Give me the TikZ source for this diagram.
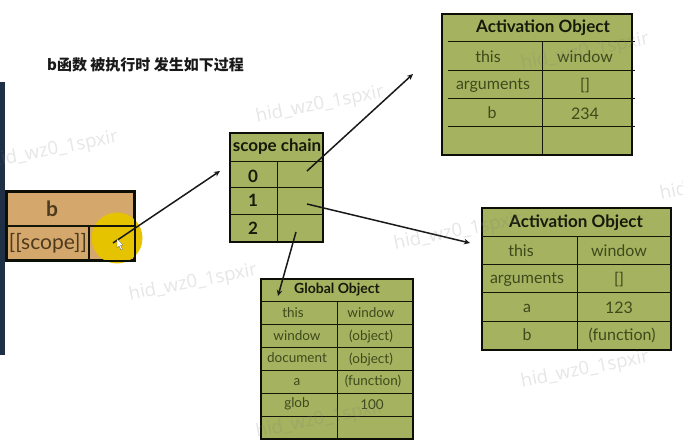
\documentclass[tikz,border=0pt]{standalone}
\usepackage{fontspec}
\setmainfont{Lato}
\newfontfamily\cjkfont{Noto Sans CJK SC}
\newfontfamily\wmfont{Open Sans}
\usetikzlibrary{arrows.meta}
\definecolor{tblgreen}{HTML}{A5B25F}
\definecolor{tbltan}{HTML}{D4A76C}
\definecolor{inkgreen}{HTML}{3E4A1C}
\definecolor{inkbrown}{HTML}{4E3B1E}
\definecolor{hilite}{HTML}{E6C300}
\definecolor{sidebar}{HTML}{1F2F45}
\tikzset{
  x=1pt,y=-1pt,
  frame/.style={draw=black!80!inkgreen,line width=1.6pt,inner sep=0pt},
  rule/.style={draw=black!70!inkgreen,line width=1pt},
  cell/.style={text=inkgreen,font=\fontsize{16}{18}\selectfont,inner sep=0pt},
  smallcell/.style={text=inkgreen,font=\fontsize{13.5}{15}\selectfont,inner sep=0pt},
  head/.style={text=black!65!inkgreen,font=\bfseries\fontsize{17}{19}\selectfont,inner sep=0pt},
  link/.style={draw=black!90,line width=1.5pt,-{Stealth[length=6pt,width=5.5pt]}},
  watermark/.style={text=gray,text opacity=.2,font=\wmfont\fontsize{18.5}{20}\selectfont,rotate=11,inner sep=0pt},
}
\begin{document}
\begin{tikzpicture}
\useasboundingbox (0,0) rectangle (683,446);
% side bar
\fill[sidebar] (0,82) rectangle (5,355);

% function b
\node[frame,fill=tbltan,minimum width=127pt,minimum height=68pt] (fb) at (70.5,226) {};
\node[fill=hilite,circle,minimum size=51pt,inner sep=0pt] (spot) at (117,238) {};
\draw[frame] (fb.north west) rectangle (fb.south east);
\draw[rule,line width=1.2pt] (7,226) -- (134,226) (89,226) -- (89,260);
\node[head,text=inkbrown,font=\bfseries\fontsize{21}{23}\selectfont] (fbt) at (52,209) {b};
\node[cell,text=inkbrown,font=\fontsize{21}{23}\selectfont] (fbs) at (48,243) {[[scope]]};
\coordinate (fbp) at (113,243);

% scope chain
\node[frame,fill=tblgreen,minimum width=93pt,minimum height=109pt] (sc) at (276.5,187.5) {};
\draw[rule] (230,162) -- (323,162) (230,188) -- (323,188) (230,215) -- (323,215) (277,162) -- (277,242);
\node[head] (sct) at (277,147) {scope chain};
\node[head] (s0) at (253,176) {0};
\node[head] (s1) at (253,200) {1};
\node[head] (s2) at (253,228) {2};
\coordinate (sp0) at (307,171);
\coordinate (sp1) at (307,204);
\coordinate (sp2) at (296,232);
\coordinate (scin) at (220,171);

% activation object 1
\node[frame,fill=tblgreen,minimum width=190pt,minimum height=141pt] (ao) at (537,84.5) {};
\draw[rule] (448,42) -- (635,42) (448,71) -- (635,71) (448,99) -- (635,99) (448,127) -- (635,127) (542,42) -- (542,155);
\node[head] (aot) at (543,28) {Activation Object};
\node[cell] (a1a) at (488,57) {this};
\node[cell] (a1b) at (585,57) {window};
\node[cell] (a2a) at (493,86) {arguments};
\node[cell] (a2b) at (585,86) {[]};
\node[cell] (a3a) at (492,113) {b};
\node[cell] (a3b) at (585,114) {234};
\coordinate (aoin) at (413,74);

% activation object 2
\node[frame,fill=tblgreen,minimum width=189pt,minimum height=142pt] (bo) at (576.5,279) {};
\draw[rule] (482,237) -- (671,237) (482,265) -- (671,265) (482,293) -- (671,293) (482,322) -- (671,322) (577,237) -- (577,350);
\node[head] (bot) at (576,223) {Activation Object};
\node[cell] (b1a) at (521,251) {this};
\node[cell] (b1b) at (619,251) {window};
\node[cell] (b2a) at (527,280) {arguments};
\node[cell] (b2b) at (619,280) {[]};
\node[cell] (b3a) at (527,308) {a};
\node[cell] (b3b) at (619,308) {123};
\node[cell] (b4a) at (527,335) {b};
\node[cell] (b4b) at (622,335) {(function)};
\coordinate (boin) at (470,243);

% global object
\node[frame,fill=tblgreen,minimum width=152pt,minimum height=160pt] (go) at (337,359) {};
\draw[rule] (261,302) -- (413,302) (261,325) -- (413,325) (261,348) -- (413,348) (261,371) -- (413,371) (261,393) -- (413,393) (261,416) -- (413,416) (337,302) -- (337,439);
\node[head,font=\bfseries\fontsize{14}{16}\selectfont] (got) at (337,290) {Global Object};
\node[smallcell] (g1a) at (293,313) {this};
\node[smallcell] (g1b) at (371,313) {window};
\node[smallcell] (g2a) at (297,336) {window};
\node[smallcell] (g2b) at (371,336) {(object)};
\node[smallcell] (g3a) at (297,358) {document};
\node[smallcell] (g3b) at (371,359) {(object)};
\node[smallcell] (g4a) at (297,382) {a};
\node[smallcell] (g4b) at (373,381) {(function)};
\node[smallcell] (g5a) at (297,404) {glob};
\node[smallcell] (g5b) at (372,405) {100};
\coordinate (goin) at (278,296);

% connectors
\draw[link] (fbp) -- (scin);
\draw[link] (sp0) -- (aoin);
\draw[link] (sp1) -- (boin);
\draw[link] (sp2) -- (goin);

% cursor
\fill[white,draw=black!60,line width=.3pt] (117,239) -- (117,248) -- (119,246) -- (121,250) -- (122.5,249) -- (120.5,245.5) -- (123,245) -- cycle;

% title
\node[font=\cjkfont\bfseries\fontsize{15}{18}\selectfont,text=black!90,anchor=west,inner sep=0pt] (title) at (47,65) {b函数 被执行时 发生如下过程};

% watermarks
\begin{scope}
\clip (0,0) rectangle (683,446);
\node[watermark] (w1) at (54,150) {hid\_wz0\_1spxir};
\node[watermark] (w2) at (193,283) {hid\_wz0\_1spxir};
\node[watermark] (w3) at (320,105) {hid\_wz0\_1spxir};
\node[watermark] (w4) at (458,232) {hid\_wz0\_1spxir};
\node[watermark] (w5) at (585,52) {hid\_wz0\_1spxir};
\node[watermark] (w6) at (585,370) {hid\_wz0\_1spxir};
\node[watermark] (w7) at (320,420) {hid\_wz0\_1spxir};
\node[watermark,anchor=west] (w8) at (660,195) {hid\_wz0\_1spxir};
\end{scope}
\end{tikzpicture}
\end{document}
